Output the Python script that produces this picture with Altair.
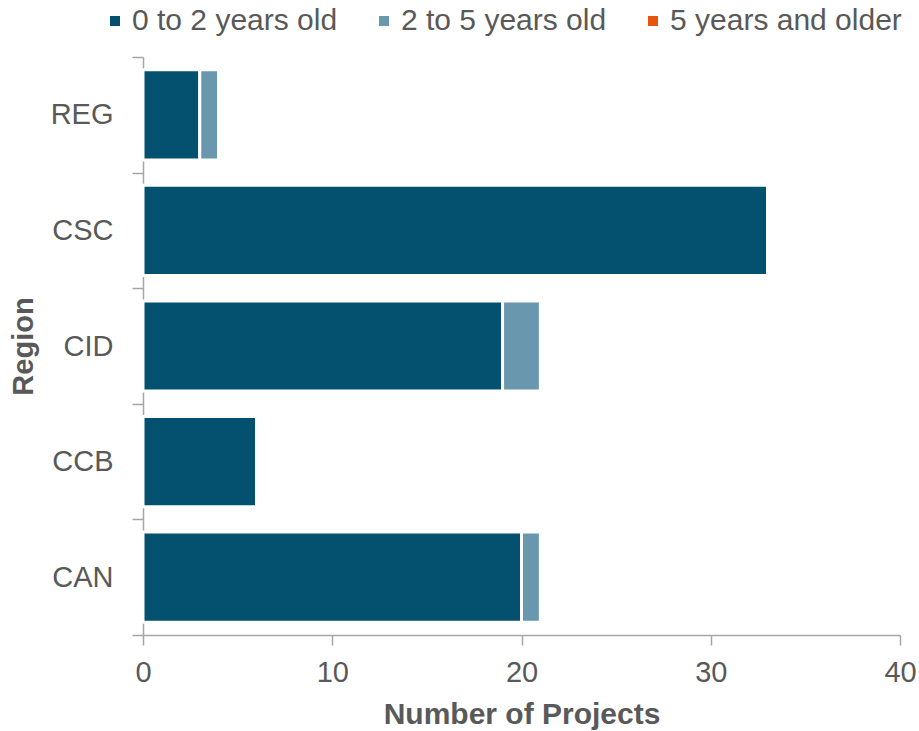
import altair as alt
import pandas as pd

regions = ["REG", "CSC", "CID", "CCB", "CAN"]
age_groups = ["0 to 2 years old", "2 to 5 years old", "5 years and older"]
young = [3, 33, 19, 6, 20]
mid = [1, 0, 2, 0, 1]
old = [0, 0, 0, 0, 0]
colors = ["#03506F", "#6897AE", "#E8540E"]

rows = []
for i, r in enumerate(regions):
    for k, (g, vals) in enumerate(zip(age_groups, [young, mid, old])):
        rows.append({"Region": r, "Age": g, "Count": vals[i], "order": k})
df = pd.DataFrame(rows)

FONT = "Liberation Sans"
TXT = "#595959"
AX = "#A6A6A6"

bars = alt.Chart(df).mark_bar(
    stroke="white", strokeWidth=3, height=alt.RelativeBandSize(band=0.78)
).encode(
    y=alt.Y("Region:N", sort=regions,
            scale=alt.Scale(paddingInner=0, paddingOuter=0),
            axis=alt.Axis(title="Region", tickBand="extent", labelFontSize=29,
                          titleFontSize=29, labelPadding=19, titlePadding=12,
                          tickSize=11)),
    x=alt.X("Count:Q", scale=alt.Scale(domain=[0, 40], nice=False),
            axis=alt.Axis(title="Number of Projects", values=[0, 10, 20, 30, 40],
                          labelFontSize=29, titleFontSize=30, labelPadding=13,
                          titlePadding=12, tickSize=10, grid=False, labelFlush=False)),
    color=alt.Color("Age:N", sort=age_groups,
                    scale=alt.Scale(domain=age_groups, range=colors),
                    legend=alt.Legend(title=None, orient="none", legendX=-43, legendY=-51,
                                      direction="horizontal", symbolType="square",
                                      symbolSize=100, labelFontSize=30, columnPadding=31,
                                      symbolStrokeWidth=0, labelOffset=2, labelLimit=400,
                                      padding=0)),
    order=alt.Order("order:Q"),
)

chart = bars.properties(
    width=757, height=578,
    padding={"left": 143, "top": 57, "right": 19, "bottom": 96},
    autosize=alt.AutoSizeParams(type="none"),
).configure_view(stroke=None).configure_axis(
    labelFont=FONT, titleFont=FONT, labelColor=TXT, titleColor=TXT,
    domainColor=AX, tickColor=AX, domainWidth=1.5, tickWidth=1.5,
    titleFontWeight="bold",
).configure_legend(labelFont=FONT, labelColor=TXT)

chart.save("out.html", embed_options={"renderer": "svg", "actions": False})
